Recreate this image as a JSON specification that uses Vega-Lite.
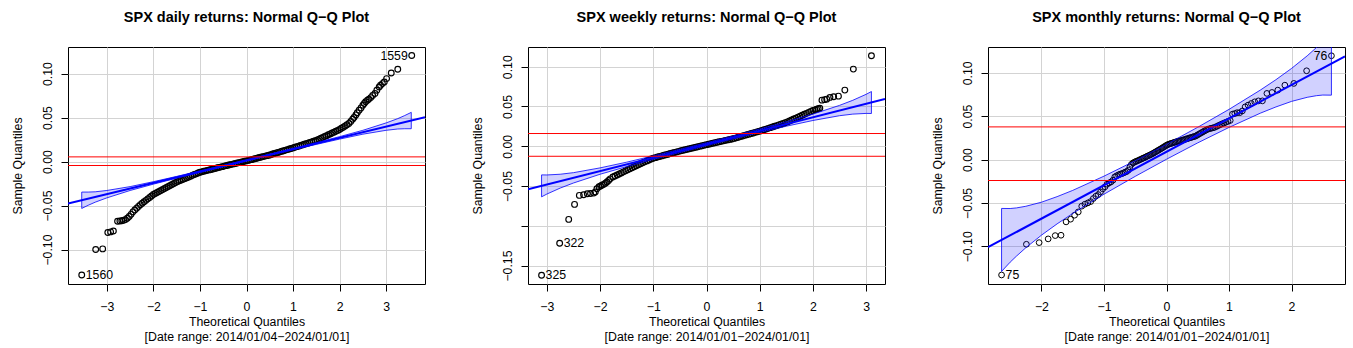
{
  "$schema": "https://vega.github.io/schema/vega-lite/v6.json",
  "padding": {"left": 10, "top": 9, "right": 0, "bottom": 0},
  "background": "white",
  "bounds": "flush",
  "spacing": 103,
  "config": {
    "font": "Liberation Sans",
    "view": {"stroke": "black", "strokeWidth": 1},
    "axis": {"grid": true, "gridColor": "#d3d3d3", "gridWidth": 1, "domain": false, "tickColor": "black", "tickSize": 7, "labelFont": "Liberation Sans", "labelFontSize": 12.3, "labelColor": "black", "titleFont": "Liberation Sans", "titleFontSize": 12.3, "titleFontWeight": "normal", "titleColor": "black", "labelFlush": false, "labelOverlap": false},
    "axisX": {"labelPadding": 9, "titlePadding": 3, "titleLineHeight": 15},
    "axisY": {"labelAngle": -90, "labelAlign": "center", "labelBaseline": "bottom", "labelPadding": 7, "titlePadding": 17},
    "title": {"font": "Liberation Sans", "fontSize": 14.5, "fontWeight": "bold", "color": "black", "anchor": "middle", "offset": 22, "baseline": "alphabetic"}
  },
  "datasets": {
    "d_pts": [
      {"z":-3.54,"y":-0.1289},{"z":-3.24,"y":-0.1000},{"z":-3.09,"y":-0.0993},{"z":-2.98,"y":-0.0807},{"z":-2.92,"y":-0.0800},{"z":-2.86,"y":-0.0790},{"z":-2.77,"y":-0.0678},{"z":-2.72,"y":-0.0676},{"z":-2.68,"y":-0.0673},{"z":-2.64,"y":-0.0668},{"z":-2.60,"y":-0.0660},{"z":-2.56,"y":-0.0645},{"z":-2.52,"y":-0.0625},{"z":-2.48,"y":-0.0600},{"z":-2.44,"y":-0.0572},{"z":-2.40,"y":-0.0550},{"z":-2.36,"y":-0.0530},{"z":-2.32,"y":-0.0510},
      {"z":-2.28,"y":-0.0490},{"z":-2.24,"y":-0.0474},{"z":-2.20,"y":-0.0457},{"z":-2.16,"y":-0.0441},{"z":-2.12,"y":-0.0424},{"z":-2.08,"y":-0.0408},{"z":-2.04,"y":-0.0391},{"z":-2.00,"y":-0.0375},{"z":-1.96,"y":-0.0364},{"z":-1.92,"y":-0.0352},{"z":-1.88,"y":-0.0341},{"z":-1.84,"y":-0.0329},{"z":-1.80,"y":-0.0318},{"z":-1.76,"y":-0.0307},{"z":-1.72,"y":-0.0295},{"z":-1.68,"y":-0.0284},{"z":-1.64,"y":-0.0272},{"z":-1.60,"y":-0.0261},{"z":-1.56,"y":-0.0249},{"z":-1.52,"y":-0.0238},{"z":-1.48,"y":-0.0228},{"z":-1.44,"y":-0.0219},{"z":-1.40,"y":-0.0210},{"z":-1.36,"y":-0.0201},{"z":-1.32,"y":-0.0192},{"z":-1.28,"y":-0.0184},{"z":-1.24,"y":-0.0175},{"z":-1.20,"y":-0.0166},{"z":-1.16,"y":-0.0157},{"z":-1.12,"y":-0.0148},{"z":-1.08,"y":-0.0140},{"z":-1.04,"y":-0.0131},{"z":-1.00,"y":-0.0122},
      {"z":-0.96,"y":-0.0117},{"z":-0.92,"y":-0.0111},{"z":-0.88,"y":-0.0106},{"z":-0.84,"y":-0.0100},{"z":-0.80,"y":-0.0095},{"z":-0.76,"y":-0.0090},{"z":-0.72,"y":-0.0084},{"z":-0.68,"y":-0.0079},{"z":-0.64,"y":-0.0074},{"z":-0.60,"y":-0.0068},{"z":-0.56,"y":-0.0063},{"z":-0.52,"y":-0.0058},{"z":-0.48,"y":-0.0052},{"z":-0.44,"y":-0.0047},{"z":-0.40,"y":-0.0042},{"z":-0.36,"y":-0.0037},{"z":-0.32,"y":-0.0032},{"z":-0.28,"y":-0.0027},{"z":-0.24,"y":-0.0022},{"z":-0.20,"y":-0.0017},{"z":-0.16,"y":-0.0012},{"z":-0.12,"y":-0.0007},{"z":-0.08,"y":-0.0002},{"z":-0.04,"y":0.0003},{"z":0.00,"y":0.0008},
      {"z":0.04,"y":0.0013},{"z":0.08,"y":0.0019},{"z":0.12,"y":0.0024},{"z":0.16,"y":0.0029},{"z":0.20,"y":0.0035},{"z":0.24,"y":0.0040},{"z":0.28,"y":0.0046},{"z":0.32,"y":0.0051},{"z":0.36,"y":0.0056},{"z":0.40,"y":0.0062},{"z":0.44,"y":0.0067},{"z":0.48,"y":0.0072},{"z":0.52,"y":0.0078},{"z":0.56,"y":0.0085},{"z":0.60,"y":0.0091},{"z":0.64,"y":0.0098},{"z":0.68,"y":0.0104},{"z":0.72,"y":0.0110},{"z":0.76,"y":0.0117},{"z":0.80,"y":0.0123},{"z":0.84,"y":0.0130},{"z":0.88,"y":0.0136},{"z":0.92,"y":0.0142},{"z":0.96,"y":0.0149},{"z":1.00,"y":0.0155},
      {"z":1.04,"y":0.0162},{"z":1.08,"y":0.0169},{"z":1.12,"y":0.0175},{"z":1.16,"y":0.0182},{"z":1.20,"y":0.0189},{"z":1.24,"y":0.0196},{"z":1.28,"y":0.0203},{"z":1.32,"y":0.0209},{"z":1.36,"y":0.0216},{"z":1.40,"y":0.0223},{"z":1.44,"y":0.0230},{"z":1.48,"y":0.0237},{"z":1.52,"y":0.0245},{"z":1.56,"y":0.0255},{"z":1.60,"y":0.0265},{"z":1.64,"y":0.0275},{"z":1.68,"y":0.0284},{"z":1.72,"y":0.0294},{"z":1.76,"y":0.0304},{"z":1.80,"y":0.0314},{"z":1.84,"y":0.0324},{"z":1.88,"y":0.0334},{"z":1.92,"y":0.0344},{"z":1.96,"y":0.0354},{"z":2.00,"y":0.0364},{"z":2.04,"y":0.0378},{"z":2.08,"y":0.0391},{"z":2.12,"y":0.0405},{"z":2.16,"y":0.0418},{"z":2.20,"y":0.0432},{"z":2.24,"y":0.0455},{"z":2.28,"y":0.0480},
      {"z":2.31,"y":0.0500},{"z":2.35,"y":0.0530},{"z":2.38,"y":0.0555},{"z":2.42,"y":0.0583},{"z":2.46,"y":0.0610},{"z":2.50,"y":0.0640},{"z":2.53,"y":0.0659},{"z":2.56,"y":0.0680},{"z":2.60,"y":0.0697},{"z":2.63,"y":0.0710},{"z":2.67,"y":0.0727},{"z":2.71,"y":0.0750},{"z":2.76,"y":0.0773},{"z":2.80,"y":0.0810},{"z":2.85,"y":0.0848},{"z":2.88,"y":0.0867},{"z":2.92,"y":0.0886},{"z":2.96,"y":0.0905},{"z":3.01,"y":0.0943},{"z":3.11,"y":0.1007},{"z":3.25,"y":0.1049},{"z":3.55,"y":0.1205}
    ],
    "d_band": [
      {"z":-3.54,"y":-0.0533,"hi":-0.0347},{"z":-3.4,"y":-0.0497,"hi":-0.0347},{"z":-3.25,"y":-0.0462,"hi":-0.0344},{"z":-3.0,"y":-0.0413,"hi":-0.0329},{"z":-2.5,"y":-0.0329,"hi":-0.0285},{"z":-2.0,"y":-0.0257,"hi":-0.0229},{"z":-1.5,"y":-0.0189,"hi":-0.0169},{"z":-1.0,"y":-0.0123,"hi":-0.0107},{"z":-0.5,"y":-0.0058,"hi":-0.0044},{"z":0,"y":0.0007,"hi":0.0019},{"z":0.5,"y":0.0070,"hi":0.0084},{"z":1.0,"y":0.0133,"hi":0.0149},{"z":1.5,"y":0.0195,"hi":0.0215},{"z":2.0,"y":0.0255,"hi":0.0283},{"z":2.5,"y":0.0311,"hi":0.0355},{"z":3.0,"y":0.0355,"hi":0.0439},{"z":3.25,"y":0.0370,"hi":0.0488},{"z":3.4,"y":0.0373,"hi":0.0523},{"z":3.54,"y":0.0373,"hi":0.0559}
    ],
    "d_fit": [{"z":-3.835,"y":-0.0478},{"z":3.835,"y":0.0504}],
    "d_red": [{"z":-3.835,"y":0.0053,"k":"a"},{"z":3.835,"y":0.0053,"k":"a"},{"z":-3.835,"y":-0.0045,"k":"b"},{"z":3.835,"y":-0.0045,"k":"b"}],
    "d_lab": [{"z":-3.54,"y":-0.1289,"label":"1560","side":"r"},{"z":3.55,"y":0.1205,"label":"1559","side":"l"}],
    "w_pts": [
      {"z":-3.10,"y":-0.1622},{"z":-2.76,"y":-0.1219},{"z":-2.59,"y":-0.0920},{"z":-2.48,"y":-0.0731},{"z":-2.39,"y":-0.0618},{"z":-2.31,"y":-0.0609},{"z":-2.24,"y":-0.0597},{"z":-2.18,"y":-0.0594},{"z":-2.12,"y":-0.0589},{"z":-2.09,"y":-0.0576},{"z":-2.06,"y":-0.0534},{"z":-2.02,"y":-0.0510},{"z":-1.99,"y":-0.0500},{"z":-1.96,"y":-0.0488},{"z":-1.93,"y":-0.0479},{"z":-1.90,"y":-0.0465},{"z":-1.87,"y":-0.0450},{"z":-1.84,"y":-0.0430},{"z":-1.81,"y":-0.0410},
      {"z":-1.76,"y":-0.0387},{"z":-1.72,"y":-0.0374},{"z":-1.68,"y":-0.0361},{"z":-1.64,"y":-0.0348},{"z":-1.60,"y":-0.0335},{"z":-1.56,"y":-0.0322},{"z":-1.52,"y":-0.0309},{"z":-1.48,"y":-0.0296},{"z":-1.44,"y":-0.0283},{"z":-1.40,"y":-0.0270},{"z":-1.36,"y":-0.0257},{"z":-1.32,"y":-0.0245},{"z":-1.28,"y":-0.0232},{"z":-1.24,"y":-0.0220},{"z":-1.20,"y":-0.0207},{"z":-1.16,"y":-0.0196},{"z":-1.12,"y":-0.0184},{"z":-1.08,"y":-0.0173},{"z":-1.04,"y":-0.0161},{"z":-1.00,"y":-0.0150},
      {"z":-0.96,"y":-0.0143},{"z":-0.92,"y":-0.0136},{"z":-0.88,"y":-0.0128},{"z":-0.84,"y":-0.0121},{"z":-0.80,"y":-0.0114},{"z":-0.76,"y":-0.0107},{"z":-0.72,"y":-0.0100},{"z":-0.68,"y":-0.0092},{"z":-0.64,"y":-0.0085},{"z":-0.60,"y":-0.0078},{"z":-0.56,"y":-0.0071},{"z":-0.52,"y":-0.0064},{"z":-0.48,"y":-0.0057},{"z":-0.44,"y":-0.0050},{"z":-0.40,"y":-0.0044},{"z":-0.36,"y":-0.0038},{"z":-0.32,"y":-0.0031},{"z":-0.28,"y":-0.0025},{"z":-0.24,"y":-0.0018},{"z":-0.20,"y":-0.0012},{"z":-0.16,"y":-0.0006},{"z":-0.12,"y":0.0001},{"z":-0.08,"y":0.0007},{"z":-0.04,"y":0.0014},{"z":0.00,"y":0.0020},
      {"z":0.04,"y":0.0026},{"z":0.08,"y":0.0032},{"z":0.12,"y":0.0038},{"z":0.16,"y":0.0044},{"z":0.20,"y":0.0050},{"z":0.24,"y":0.0056},{"z":0.28,"y":0.0062},{"z":0.32,"y":0.0068},{"z":0.36,"y":0.0074},{"z":0.40,"y":0.0080},{"z":0.44,"y":0.0086},{"z":0.48,"y":0.0092},{"z":0.52,"y":0.0099},{"z":0.56,"y":0.0106},{"z":0.60,"y":0.0114},{"z":0.64,"y":0.0122},{"z":0.68,"y":0.0129},{"z":0.72,"y":0.0137},{"z":0.76,"y":0.0144},{"z":0.80,"y":0.0152},{"z":0.84,"y":0.0160},{"z":0.88,"y":0.0167},{"z":0.92,"y":0.0175},{"z":0.96,"y":0.0182},{"z":1.00,"y":0.0190},
      {"z":1.04,"y":0.0199},{"z":1.08,"y":0.0208},{"z":1.12,"y":0.0216},{"z":1.16,"y":0.0225},{"z":1.20,"y":0.0234},{"z":1.24,"y":0.0243},{"z":1.28,"y":0.0252},{"z":1.32,"y":0.0260},{"z":1.36,"y":0.0269},{"z":1.40,"y":0.0278},{"z":1.44,"y":0.0287},{"z":1.48,"y":0.0296},{"z":1.52,"y":0.0306},{"z":1.56,"y":0.0318},{"z":1.60,"y":0.0330},{"z":1.64,"y":0.0342},{"z":1.68,"y":0.0354},{"z":1.72,"y":0.0366},{"z":1.76,"y":0.0378},{"z":1.80,"y":0.0390},{"z":1.84,"y":0.0402},{"z":1.88,"y":0.0414},{"z":1.92,"y":0.0426},{"z":1.96,"y":0.0438},{"z":2.00,"y":0.0450},
      {"z":2.04,"y":0.0458},{"z":2.07,"y":0.0465},{"z":2.10,"y":0.0472},{"z":2.13,"y":0.0478},{"z":2.17,"y":0.0580},{"z":2.22,"y":0.0586},{"z":2.26,"y":0.0592},{"z":2.32,"y":0.0614},{"z":2.39,"y":0.0622},{"z":2.48,"y":0.0630},{"z":2.60,"y":0.0706},{"z":2.76,"y":0.0970},{"z":3.10,"y":0.1138}
    ],
    "w_band": [
      {"z":-3.10,"y":-0.0636,"hi":-0.0360},{"z":-3.0,"y":-0.0601,"hi":-0.0361},{"z":-2.75,"y":-0.0526,"hi":-0.0352},{"z":-2.5,"y":-0.0462,"hi":-0.0332},{"z":-2.0,"y":-0.0352,"hi":-0.0272},{"z":-1.5,"y":-0.0256,"hi":-0.0200},{"z":-1.0,"y":-0.0165,"hi":-0.0121},{"z":-0.5,"y":-0.0078,"hi":-0.0039},{"z":0,"y":0.0008,"hi":0.0044},{"z":0.5,"y":0.0092,"hi":0.0130},{"z":1.0,"y":0.0173,"hi":0.0217},{"z":1.5,"y":0.0252,"hi":0.0308},{"z":2.0,"y":0.0324,"hi":0.0404},{"z":2.5,"y":0.0384,"hi":0.0514},{"z":2.75,"y":0.0404,"hi":0.0578},{"z":3.0,"y":0.0413,"hi":0.0653},{"z":3.10,"y":0.0412,"hi":0.0688}
    ],
    "w_fit": [{"z":-3.355,"y":-0.0541},{"z":3.355,"y":0.0593}],
    "w_red": [{"z":-3.355,"y":0.0160,"k":"a"},{"z":3.355,"y":0.0160,"k":"a"},{"z":-3.355,"y":-0.0126,"k":"b"},{"z":3.355,"y":-0.0126,"k":"b"}],
    "w_lab": [{"z":-3.10,"y":-0.1622,"label":"325","side":"r"},{"z":-2.76,"y":-0.1219,"label":"322","side":"r"}],
    "m_pts": [
      {"z":-2.638,"y":-0.1331},{"z":-2.241,"y":-0.0977},{"z":-2.037,"y":-0.0958},{"z":-1.893,"y":-0.0915},{"z":-1.780,"y":-0.0877},{"z":-1.687,"y":-0.0873},{"z":-1.606,"y":-0.0719},{"z":-1.534,"y":-0.0688},{"z":-1.470,"y":-0.0642},{"z":-1.411,"y":-0.0604},
      {"z":-1.356,"y":-0.0538},{"z":-1.305,"y":-0.0515},{"z":-1.258,"y":-0.0500},{"z":-1.213,"y":-0.0485},{"z":-1.171,"y":-0.0450},{"z":-1.130,"y":-0.0423},{"z":-1.092,"y":-0.0404},{"z":-1.055,"y":-0.0373},{"z":-1.019,"y":-0.0338},{"z":-0.984,"y":-0.0315},
      {"z":-0.951,"y":-0.0285},{"z":-0.918,"y":-0.0270},{"z":-0.887,"y":-0.0258},{"z":-0.856,"y":-0.0238},{"z":-0.827,"y":-0.0200},{"z":-0.798,"y":-0.0188},{"z":-0.769,"y":-0.0177},{"z":-0.742,"y":-0.0169},{"z":-0.714,"y":-0.0162},{"z":-0.688,"y":-0.0155},
      {"z":-0.662,"y":-0.0146},{"z":-0.636,"y":-0.0138},{"z":-0.610,"y":-0.0123},{"z":-0.585,"y":-0.0085},{"z":-0.561,"y":-0.0055},{"z":-0.536,"y":-0.0040},{"z":-0.512,"y":-0.0030},{"z":-0.489,"y":-0.0022},{"z":-0.465,"y":-0.0015},{"z":-0.442,"y":-0.0008},
      {"z":-0.419,"y":0.0000},{"z":-0.396,"y":0.0008},{"z":-0.374,"y":0.0015},{"z":-0.352,"y":0.0022},{"z":-0.330,"y":0.0030},{"z":-0.308,"y":0.0038},{"z":-0.286,"y":0.0045},{"z":-0.264,"y":0.0052},{"z":-0.243,"y":0.0060},{"z":-0.221,"y":0.0068},
      {"z":-0.200,"y":0.0077},{"z":-0.179,"y":0.0086},{"z":-0.157,"y":0.0095},{"z":-0.136,"y":0.0104},{"z":-0.115,"y":0.0113},{"z":-0.094,"y":0.0122},{"z":-0.073,"y":0.0131},{"z":-0.052,"y":0.0140},{"z":-0.031,"y":0.0150},{"z":-0.010,"y":0.0160},
      {"z":0.010,"y":0.0168},{"z":0.031,"y":0.0175},{"z":0.052,"y":0.0180},{"z":0.073,"y":0.0185},{"z":0.094,"y":0.0190},{"z":0.115,"y":0.0195},{"z":0.136,"y":0.0200},{"z":0.157,"y":0.0205},{"z":0.179,"y":0.0210},{"z":0.200,"y":0.0213},
      {"z":0.221,"y":0.0216},{"z":0.243,"y":0.0220},{"z":0.264,"y":0.0225},{"z":0.286,"y":0.0230},{"z":0.308,"y":0.0235},{"z":0.330,"y":0.0240},{"z":0.352,"y":0.0245},{"z":0.374,"y":0.0250},{"z":0.396,"y":0.0255},{"z":0.419,"y":0.0260},
      {"z":0.442,"y":0.0265},{"z":0.465,"y":0.0270},{"z":0.489,"y":0.0280},{"z":0.512,"y":0.0290},{"z":0.536,"y":0.0300},{"z":0.561,"y":0.0310},{"z":0.585,"y":0.0320},{"z":0.610,"y":0.0330},{"z":0.636,"y":0.0340},{"z":0.662,"y":0.0350},
      {"z":0.688,"y":0.0355},{"z":0.714,"y":0.0360},{"z":0.742,"y":0.0365},{"z":0.769,"y":0.0370},{"z":0.798,"y":0.0380},{"z":0.827,"y":0.0390},{"z":0.856,"y":0.0400},{"z":0.887,"y":0.0410},{"z":0.918,"y":0.0420},{"z":0.951,"y":0.0430},
      {"z":0.984,"y":0.0440},{"z":1.019,"y":0.0450},{"z":1.055,"y":0.0523},{"z":1.092,"y":0.0530},{"z":1.130,"y":0.0540},{"z":1.171,"y":0.0540},{"z":1.213,"y":0.0560},{"z":1.258,"y":0.0607},{"z":1.305,"y":0.0627},{"z":1.356,"y":0.0646},
      {"z":1.411,"y":0.0665},{"z":1.470,"y":0.0676},{"z":1.534,"y":0.0676},{"z":1.606,"y":0.0762},{"z":1.687,"y":0.0773},{"z":1.780,"y":0.0800},{"z":1.893,"y":0.0857},{"z":2.037,"y":0.0877},{"z":2.241,"y":0.1023},{"z":2.638,"y":0.1196}
    ],
    "m_band": [
      {"z":-2.638,"y":-0.1290,"hi":-0.0564},{"z":-2.5,"y":-0.1183,"hi":-0.0565},{"z":-2.4,"y":-0.1114,"hi":-0.0558},{"z":-2.25,"y":-0.1017,"hi":-0.0539},{"z":-2.0,"y":-0.0872,"hi":-0.0492},{"z":-1.75,"y":-0.0742,"hi":-0.0428},{"z":-1.5,"y":-0.0622,"hi":-0.0356},{"z":-1.0,"y":-0.0400,"hi":-0.0192},{"z":-0.5,"y":-0.0194,"hi":-0.0014},{"z":0,"y":0.0003,"hi":0.0175},{"z":0.5,"y":0.0192,"hi":0.0372},{"z":1.0,"y":0.0370,"hi":0.0578},{"z":1.5,"y":0.0534,"hi":0.0800},{"z":1.75,"y":0.0606,"hi":0.0920},{"z":2.0,"y":0.0670,"hi":0.1050},{"z":2.25,"y":0.0717,"hi":0.1195},{"z":2.4,"y":0.0736,"hi":0.1292},{"z":2.5,"y":0.0743,"hi":0.1361},{"z":2.638,"y":0.0742,"hi":0.1468}
    ],
    "m_fit": [{"z":-2.855,"y":-0.1011},{"z":2.855,"y":0.1189}],
    "m_red": [{"z":-2.855,"y":0.0376,"k":"a"},{"z":2.855,"y":0.0376,"k":"a"},{"z":-2.855,"y":-0.0242,"k":"b"},{"z":2.855,"y":-0.0242,"k":"b"}],
    "m_lab": [{"z":-2.638,"y":-0.1331,"label":"75","side":"r"},{"z":2.638,"y":0.1196,"label":"76","side":"l"}]
  },
  "hconcat": [
    {
      "width": 357, "height": 237,
      "title": {"text": "SPX daily returns: Normal Q−Q Plot"},
      "encoding": {
        "x": {"field": "z", "type": "quantitative", "scale": {"domain": [-3.835, 3.835], "nice": false, "zero": false}, "axis": {"values": [-3,-2,-1,0,1,2,3], "format": "d", "title": ["Theoretical Quantiles", "[Date range: 2014/01/04−2024/01/01]"]}},
        "y": {"field": "y", "type": "quantitative", "scale": {"domain": [-0.1392, 0.1302], "nice": false, "zero": false}, "axis": {"values": [-0.1,-0.05,0,0.05,0.1], "format": ".2f", "title": "Sample Quantiles"}}
      },
      "layer": [
        {"data": {"name": "d_pts"}, "mark": {"type": "point", "shape": "circle", "filled": false, "color": "black", "strokeWidth": 1.15, "size": 33, "opacity": 1}},
        {"data": {"name": "d_band"}, "mark": {"type": "area", "clip": true, "fill": "#0000ff", "fillOpacity": 0.18, "stroke": "#0000ff", "strokeWidth": 0.8}, "encoding": {"y2": {"field": "hi"}}},
        {"data": {"name": "d_fit"}, "mark": {"type": "line", "clip": true, "color": "#0000ff", "strokeWidth": 2}},
        {"data": {"name": "d_red"}, "mark": {"type": "line", "clip": true, "color": "red", "strokeWidth": 1}, "encoding": {"detail": {"field": "k"}}},
        {"data": {"name": "d_lab"}, "transform": [{"filter": "datum.side == 'r'"}], "mark": {"type": "text", "align": "left", "baseline": "middle", "dx": 4, "fontSize": 12.3, "color": "black"}, "encoding": {"text": {"field": "label"}}},
        {"data": {"name": "d_lab"}, "transform": [{"filter": "datum.side == 'l'"}], "mark": {"type": "text", "align": "right", "baseline": "middle", "dx": -4, "fontSize": 12.3, "color": "black"}, "encoding": {"text": {"field": "label"}}}
      ]
    },
    {
      "width": 357, "height": 237,
      "title": {"text": "SPX weekly returns: Normal Q−Q Plot"},
      "encoding": {
        "x": {"field": "z", "type": "quantitative", "scale": {"domain": [-3.355, 3.355], "nice": false, "zero": false}, "axis": {"values": [-3,-2,-1,0,1,2,3], "format": "d", "title": ["Theoretical Quantiles", "[Date range: 2014/01/01−2024/01/01]"]}},
        "y": {"field": "y", "type": "quantitative", "scale": {"domain": [-0.1732, 0.1248], "nice": false, "zero": false}, "axis": {"values": [-0.15,-0.1,-0.05,0,0.05,0.1], "format": ".2f", "labelExpr": "abs(datum.value + 0.1) < 0.001 ? '' : datum.label", "title": "Sample Quantiles"}}
      },
      "layer": [
        {"data": {"name": "w_pts"}, "mark": {"type": "point", "shape": "circle", "filled": false, "color": "black", "strokeWidth": 1.15, "size": 33, "opacity": 1}},
        {"data": {"name": "w_band"}, "mark": {"type": "area", "clip": true, "fill": "#0000ff", "fillOpacity": 0.18, "stroke": "#0000ff", "strokeWidth": 0.8}, "encoding": {"y2": {"field": "hi"}}},
        {"data": {"name": "w_fit"}, "mark": {"type": "line", "clip": true, "color": "#0000ff", "strokeWidth": 2}},
        {"data": {"name": "w_red"}, "mark": {"type": "line", "clip": true, "color": "red", "strokeWidth": 1}, "encoding": {"detail": {"field": "k"}}},
        {"data": {"name": "w_lab"}, "transform": [{"filter": "datum.side == 'r'"}], "mark": {"type": "text", "align": "left", "baseline": "middle", "dx": 4, "fontSize": 12.3, "color": "black"}, "encoding": {"text": {"field": "label"}}}
      ]
    },
    {
      "width": 357, "height": 237,
      "title": {"text": "SPX monthly returns: Normal Q−Q Plot"},
      "encoding": {
        "x": {"field": "z", "type": "quantitative", "scale": {"domain": [-2.855, 2.855], "nice": false, "zero": false}, "axis": {"values": [-2,-1,0,1,2], "format": "d", "title": ["Theoretical Quantiles", "[Date range: 2014/01/01−2024/01/01]"]}},
        "y": {"field": "y", "type": "quantitative", "scale": {"domain": [-0.1435, 0.1297], "nice": false, "zero": false}, "axis": {"values": [-0.1,-0.05,0,0.05,0.1], "format": ".2f", "title": "Sample Quantiles"}}
      },
      "layer": [
        {"data": {"name": "m_pts"}, "mark": {"type": "point", "shape": "circle", "filled": false, "color": "black", "strokeWidth": 1, "size": 33, "opacity": 1}},
        {"data": {"name": "m_band"}, "mark": {"type": "area", "clip": true, "fill": "#0000ff", "fillOpacity": 0.18, "stroke": "#0000ff", "strokeWidth": 0.8}, "encoding": {"y2": {"field": "hi"}}},
        {"data": {"name": "m_fit"}, "mark": {"type": "line", "clip": true, "color": "#0000ff", "strokeWidth": 2}},
        {"data": {"name": "m_red"}, "mark": {"type": "line", "clip": true, "color": "red", "strokeWidth": 1}, "encoding": {"detail": {"field": "k"}}},
        {"data": {"name": "m_lab"}, "transform": [{"filter": "datum.side == 'r'"}], "mark": {"type": "text", "align": "left", "baseline": "middle", "dx": 4, "fontSize": 12.3, "color": "black"}, "encoding": {"text": {"field": "label"}}},
        {"data": {"name": "m_lab"}, "transform": [{"filter": "datum.side == 'l'"}], "mark": {"type": "text", "align": "right", "baseline": "middle", "dx": -4, "fontSize": 12.3, "color": "black"}, "encoding": {"text": {"field": "label"}}}
      ]
    }
  ]
}
